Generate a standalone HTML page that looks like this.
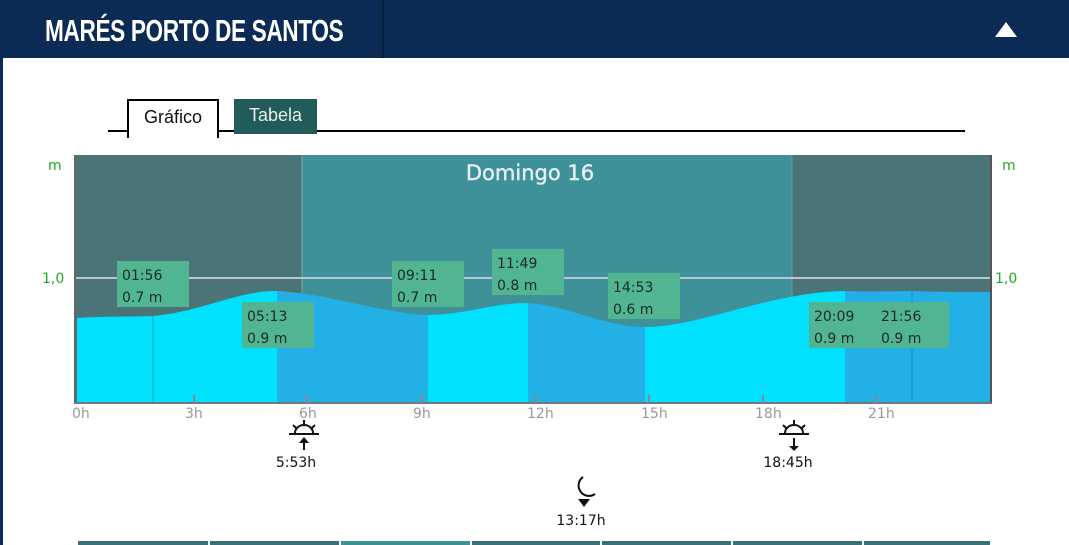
<!DOCTYPE html>
<html><head><meta charset="utf-8"><style>
body{margin:0;width:1069px;height:545px;overflow:hidden;background:#fff;font-family:"Liberation Sans",sans-serif;position:relative}
.hdr{position:absolute;left:0;top:0;width:1069px;height:58px;background:#0b2a54}
.title{position:absolute;left:45px;top:13px;color:#fff;font-family:"Liberation Sans Narrow","Liberation Sans",sans-serif;font-weight:bold;font-size:31px;letter-spacing:-0.5px;transform:scaleX(0.73);transform-origin:left;white-space:nowrap}
.div{position:absolute;left:382px;top:0;width:2px;height:58px;background:#061c3a}
.tri{position:absolute;left:995px;top:22px;width:0;height:0;border-left:11px solid transparent;border-right:11px solid transparent;border-bottom:15px solid #fff}
.lb{position:absolute;left:0;top:58px;width:3px;height:487px;background:#0b2a54}
.line{position:absolute;left:108px;top:130px;width:857px;height:2px;background:#000}
.t1{position:absolute;left:127px;top:99px;width:88px;height:37px;background:#fff;border:2px solid #000;border-bottom:none;font-size:18px;text-align:center;line-height:32px;color:#111}
.t2{position:absolute;left:234px;top:99px;width:83px;height:35px;background:#215c5a;color:#e8eeee;font-size:18px;text-align:center;line-height:32px}
</style></head><body>
<div class="hdr"><div class="title">MARÉS PORTO DE SANTOS</div><div class="div"></div><div class="tri"></div></div>
<div class="lb"></div>
<div class="line"></div>
<div class="t1">Gráfico</div>
<div class="t2">Tabela</div>
<svg width="1069" height="545" style="position:absolute;left:0;top:0" font-family="DejaVu Sans, sans-serif">
<rect x="75" y="155" width="916" height="248" fill="#4a7478"/>
<rect x="302" y="155" width="490" height="248" fill="#3f9199"/>
<line x1="302" y1="155" x2="302" y2="403" stroke="#7aa7aa" stroke-width="1"/>
<line x1="792" y1="155" x2="792" y2="403" stroke="#6f9a9c" stroke-width="1"/>
<line x1="75" y1="278" x2="991" y2="278" stroke="#b9c9ca" stroke-width="2"/>
<text x="530" y="180" fill="#e6f0f2" font-size="21" text-anchor="middle" font-family="DejaVu Sans, sans-serif" stroke="#e6f0f2" stroke-width="0.4">Domingo 16</text>
<path d="M77,318 C110,316 130,317 153,316 C200,312 240,290 277,291 L277,403 L77,403Z" fill="#00e0ff"/>
<path d="M277,291 C330,294 380,313 428,315 L428,403 L277,403Z" fill="#22b0e6"/>
<path d="M428,315 C470,314 490,303 528,303 L528,403 L428,403Z" fill="#00e0ff"/>
<path d="M528,303 C570,306 600,326 645,327 L645,403 L528,403Z" fill="#22b0e6"/>
<path d="M645,327 C700,327 770,292 845,291 L845,403 L645,403Z" fill="#00e0ff"/>
<path d="M845,291 C880,292 895,291 912,291 C940,292 970,292 991,292 L991,403 L845,403Z" fill="#22b0e6"/>
<line x1="153" y1="316" x2="153" y2="403" stroke="#2aa0b8" stroke-width="1"/>
<line x1="912" y1="291" x2="912" y2="403" stroke="#1a8fc0" stroke-width="1"/>
<line x1="75" y1="155" x2="75" y2="404" stroke="#666" stroke-width="2"/>
<line x1="991" y1="155" x2="991" y2="404" stroke="#555" stroke-width="2"/>
<line x1="74" y1="403" x2="992" y2="403" stroke="#777" stroke-width="2"/>
<g stroke="#888" stroke-width="2">
<line x1="194" y1="395" x2="194" y2="403"/><line x1="307" y1="395" x2="307" y2="403"/><line x1="421" y1="395" x2="421" y2="403"/><line x1="535" y1="395" x2="535" y2="403"/><line x1="649" y1="395" x2="649" y2="403"/><line x1="763" y1="395" x2="763" y2="403"/><line x1="876" y1="395" x2="876" y2="403"/></g>
<g fill="#999" font-size="14">
<text x="72" y="418">0h</text><text x="185" y="418">3h</text><text x="299" y="418">6h</text><text x="413" y="418">9h</text><text x="527" y="418">12h</text><text x="641" y="418">15h</text><text x="755" y="418">18h</text><text x="868" y="418">21h</text></g>
<g fill="#22aa22" font-size="14"><text x="48" y="170">m</text><text x="1002" y="170">m</text><text x="42" y="283">1,0</text><text x="995" y="283">1,0</text></g>
<g fill="#52b592">
<rect x="117" y="261" width="72" height="46"/><rect x="242" y="302" width="72" height="46"/><rect x="392" y="261" width="72" height="46"/><rect x="492" y="249" width="72" height="46"/><rect x="608" y="273" width="72" height="46"/><rect x="809" y="302" width="140" height="46"/></g>
<g fill="#1a2a22" font-size="14">
<text x="122" y="280">01:56</text><text x="122" y="302">0.7 m</text>
<text x="247" y="321">05:13</text><text x="247" y="343">0.9 m</text>
<text x="397" y="280">09:11</text><text x="397" y="302">0.7 m</text>
<text x="497" y="268">11:49</text><text x="497" y="290">0.8 m</text>
<text x="613" y="292">14:53</text><text x="613" y="314">0.6 m</text>
<text x="814" y="321">20:09</text><text x="814" y="343">0.9 m</text>
<text x="881" y="321">21:56</text><text x="881" y="343">0.9 m</text></g>
<g stroke="#111" stroke-width="2" fill="none">
<line x1="289" y1="434" x2="319" y2="434"/><path d="M295,433 A9,8 0 0 1 313,433"/>
<line x1="304" y1="420" x2="304" y2="424"/><line x1="293" y1="425" x2="296" y2="428"/><line x1="315" y1="425" x2="312" y2="428"/>
<line x1="304" y1="439" x2="304" y2="450"/>
<line x1="779" y1="434" x2="809" y2="434"/><path d="M785,433 A9,8 0 0 1 803,433"/>
<line x1="794" y1="420" x2="794" y2="424"/><line x1="783" y1="425" x2="786" y2="428"/><line x1="805" y1="425" x2="802" y2="428"/>
<line x1="794" y1="438" x2="794" y2="447"/>
<path d="M583,477 A10,10 0 1 0 595,494 A8,8 0 0 1 583,477Z"/></g>
<path d="M299,443 L304,437 L309,443Z" fill="#111"/>
<path d="M789,446 L794,451 L799,446Z" fill="#111"/>
<path d="M578,499 L590,499 L584,507Z" fill="#111"/>
<g fill="#111" font-size="14" text-anchor="middle">
<text x="296" y="467">5:53h</text><text x="788" y="467">18:45h</text><text x="581" y="525">13:17h</text></g>
<rect x="78" y="541" width="912" height="4" fill="#3a6e78"/>
<rect x="340" y="541" width="130" height="4" fill="#3f9199"/>
<g fill="#fff"><rect x="208" y="541" width="2" height="4"/><rect x="339" y="541" width="2" height="4"/><rect x="470" y="541" width="2" height="4"/><rect x="600" y="541" width="2" height="4"/><rect x="731" y="541" width="2" height="4"/><rect x="862" y="541" width="2" height="4"/></g>
</svg>
</body></html>
